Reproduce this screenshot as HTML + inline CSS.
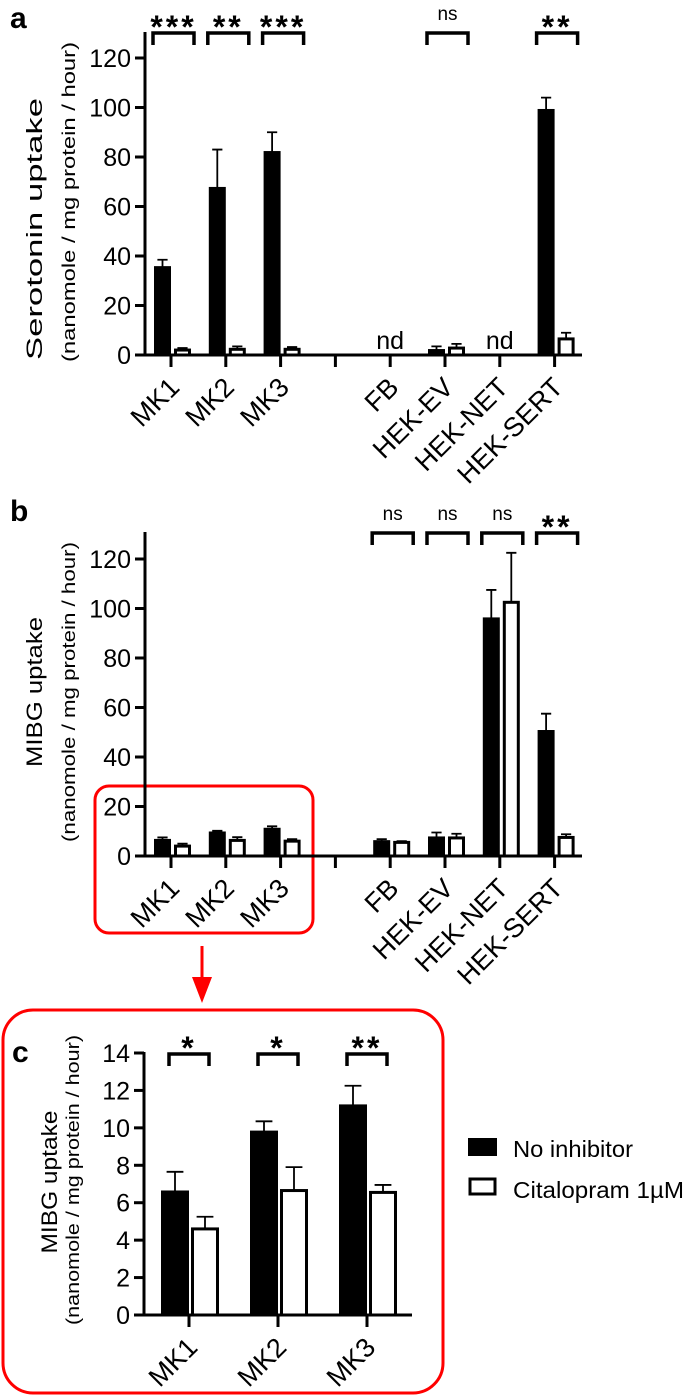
<!DOCTYPE html>
<html><head><meta charset="utf-8">
<style>
html,body{margin:0;padding:0;background:#fff;}
svg{display:block;font-family:"Liberation Sans",Arial,sans-serif;}
</style></head>
<body>
<svg id="fig" width="685" height="1396" viewBox="0 0 685 1396" xmlns="http://www.w3.org/2000/svg">
  <g font-weight="bold" font-size="30">
    <text x="10" y="28">a</text>
    <text x="10" y="521">b</text>
    <text x="12" y="1062">c</text>
  </g>
  <rect x="95" y="786" width="218" height="147" rx="14" fill="none" stroke="#f00" stroke-width="3"/>
  <line x1="202" y1="946" x2="202" y2="980" stroke="#f00" stroke-width="3"/>
  <polygon points="192,977 212,977 202,1003" fill="#f00"/>
  <rect x="3" y="1010" width="440" height="383" rx="30" fill="none" stroke="#f00" stroke-width="3"/>
  <g>
    <rect x="469" y="1139" width="27" height="16" fill="#000" stroke="#000" stroke-width="2"/>
    <text x="513" y="1157" font-size="23" textLength="120" lengthAdjust="spacingAndGlyphs">No inhibitor</text>
    <rect x="470" y="1179" width="25" height="15" fill="#fff" stroke="#000" stroke-width="3"/>
    <text x="513" y="1198" font-size="23" textLength="171" lengthAdjust="spacingAndGlyphs">Citalopram 1µM</text>
  </g>
</svg>
<script>
// Panel a: serotonin uptake
const catsAB = ["MK1","MK2","MK3","","FB","HEK-EV","HEK-NET","HEK-SERT"];
const aBlack = [35.5, 67.5, 82, null, null, 2, null, 99];
const aBlackErr = [38.5, 83, 90, null, null, 3.5, null, 104];
const aWhite = [2, 2.3, 2.3, null, null, 2.8, null, 6.5];
const aWhiteErr = [2.8, 3.5, 3.2, null, null, 4.5, null, 9];
const aSig = ["***","**","***",null,null,"ns",null,"**"];
const aNd = [null,null,null,null,"nd",null,"nd",null];
const abTicks = [0,20,40,60,80,100,120];
// Panel b: MIBG uptake
const bBlack = [6.5, 9.5, 11, null, 6, 7.5, 96, 50.5];
const bBlackErr = [7.5, 10.2, 12, null, 6.8, 9.5, 107.5, 57.5];
const bWhite = [4, 6.3, 6, null, 5.5, 7.3, 102.5, 7.5];
const bWhiteErr = [5, 7.6, 6.8, null, 6, 9, 122.5, 8.8];
const bSig = [null,null,null,null,"ns","ns","ns","**"];
// Panel c: MIBG uptake MK lines
const catsC = ["MK1","MK2","MK3"];
const cBlack = [6.6, 9.8, 11.2];
const cBlackErr = [7.65, 10.35, 12.25];
const cWhite = [4.6, 6.65, 6.55];
const cWhiteErr = [5.25, 7.9, 6.95];
const cSig = ["*","*","**"];
const cTicks = [0,2,4,6,8,10,12,14];

const NS = "http://www.w3.org/2000/svg";
const svg = document.getElementById("fig");
function mk(tag, attrs, parent, txt){
  const e = document.createElementNS(NS, tag);
  for (const k in attrs) e.setAttribute(k, attrs[k]);
  if (txt !== undefined) e.textContent = txt;
  (parent || svg).appendChild(e);
  return e;
}
function drawPanel(p){
  const g = mk("g", {});
  
  
  const y = v => p.y0 - (v - p.min) / (p.max - p.min) * (p.y0 - p.yTop);
  const x = i => p.x0 + p.step * i;
  const ax = mk("line", {x1:p.axX, y1:p.axTop, x2:p.axX, y2:p.y0+1.5, stroke:"#000","stroke-width":3}, g);
  
  
  const xa = mk("line", {x1:p.axX-10, y1:p.y0, x2:p.axEnd, y2:p.y0, stroke:"#000","stroke-width":3}, g);
  
  
  p.ticks.forEach(t => {
    const tl = mk("line", {x1:p.axX-10, y1:y(t), x2:p.axX, y2:y(t), stroke:"#000","stroke-width":3}, g);
    
    
    const tt = mk("text", {x:p.axX-14, y:y(t)+9, "text-anchor":"end","font-size":25}, g, String(t));
    
    
  });
  const t1 = mk("text", {transform:`translate(${p.titleX},${p.titleY}) rotate(-90)`, "text-anchor":"middle","font-size":22, textLength:p.titleLen, lengthAdjust:"spacingAndGlyphs"}, g, p.title);
  
  
  const t2 = mk("text", {transform:`translate(${p.subX},${p.subY}) rotate(-90)`, "text-anchor":"middle","font-size":18, textLength:p.subLen, lengthAdjust:"spacingAndGlyphs"}, g, "(nanomole / mg protein / hour)");
  
  
  p.cats.forEach((c, i) => {
    const cx = x(i);
    const tk = mk("line", {x1:cx, y1:p.y0, x2:cx, y2:p.y0+12, stroke:"#000","stroke-width":3}, g);
    
    
    if (c) {
      const lb = mk("text", {transform:`translate(${cx+10},${p.y0+34}) rotate(-45)`, "text-anchor":"end","font-size":27}, g, c);
      
      
    }
    const bw = p.bw, gap = p.gap;
    if (p.black[i] != null) {
      const xb = cx - bw - p.off;
      const r = mk("rect", {x:xb+1, y:y(p.black[i]), width:bw-2, height:p.y0-y(p.black[i]), fill:"#000", stroke:"#000","stroke-width":2}, g);
      
      
      const ec = xb + bw/2;
      const e1 = mk("path", {d:`M${ec},${y(p.black[i])} V${y(p.blackErr[i])} M${ec-bw*0.3},${y(p.blackErr[i])} H${ec+bw*0.3}`, stroke:"#000","stroke-width":1.8, fill:"none"}, g);
      
      
    }
    if (p.white[i] != null) {
      const xw = cx + gap - p.off;
      const e2 = mk("path", {d:`M${xw+bw/2},${y(p.white[i])} V${y(p.whiteErr[i])} M${xw+bw*0.2},${y(p.whiteErr[i])} H${xw+bw*0.8}`, stroke:"#000","stroke-width":1.8, fill:"none"}, g);
      
      
      const r = mk("rect", {x:xw+1.5, y:y(p.white[i]), width:bw-3, height:p.y0-y(p.white[i]), fill:"#fff", stroke:"#000","stroke-width":3}, g);
      
      
    }
    if (p.nd && p.nd[i]) {
      const n = mk("text", {x:cx, y:p.y0-6, "text-anchor":"middle","font-size":25}, g, p.nd[i]);
      
      
    }
    if (p.sig[i]) {
      const l = cx - p.bL, rr = cx + p.bR;
      const br = mk("path", {d:`M${l},${p.bTop+12} V${p.bTop} H${rr} V${p.bTop+12}`, stroke:"#000","stroke-width":3.5, fill:"none"}, g);
      
      
      const isNs = p.sig[i] === "ns";
      const st = mk("text", {x:(l+rr)/2, y:isNs ? p.bTop-13 : p.bTop+5, "text-anchor":"middle","font-size":isNs ? 19 : 32, "font-weight":isNs ? "normal" : "bold", "letter-spacing":isNs ? 0 : 3}, g, p.sig[i]);
      
      
    }
  });
}
drawPanel({name:"panel-a-serotonin-chart", cats:catsAB, black:aBlack, blackErr:aBlackErr, white:aWhite, whiteErr:aWhiteErr, sig:aSig, nd:aNd, ticks:abTicks,
  min:0, max:120, y0:355, yTop:58, axX:145, axTop:32, axEnd:582, x0:171, step:54.8, bw:17, gap:3, off:0,
  bTop:33, bL:18, bR:23, title:"Serotonin uptake", titleX:42, titleY:229, titleLen:262, subX:75, subY:202, subLen:320});
drawPanel({name:"panel-b-mibg-chart", cats:catsAB, black:bBlack, blackErr:bBlackErr, white:bWhite, whiteErr:bWhiteErr, sig:bSig, nd:null, ticks:abTicks,
  min:0, max:120, y0:856, yTop:559, axX:145, axTop:532, axEnd:582, x0:171, step:54.8, bw:17, gap:3, off:0,
  bTop:533, bL:18, bR:23, title:"MIBG uptake", titleX:42, titleY:692, titleLen:150, subX:75, subY:692, subLen:300});
drawPanel({name:"panel-c-mibg-mk-chart", cats:catsC, black:cBlack, blackErr:cBlackErr, white:cWhite, whiteErr:cWhiteErr, sig:cSig, nd:null, ticks:cTicks,
  min:0, max:14, y0:1315, yTop:1053, axX:144, axTop:1052, axEnd:412, x0:189, step:89, bw:28, gap:2, off:0,
  bTop:1054, bL:20, bR:20, title:"MIBG uptake", titleX:57, titleY:1182, titleLen:143, subX:79, subY:1180, subLen:290});
</script>
</body></html>
